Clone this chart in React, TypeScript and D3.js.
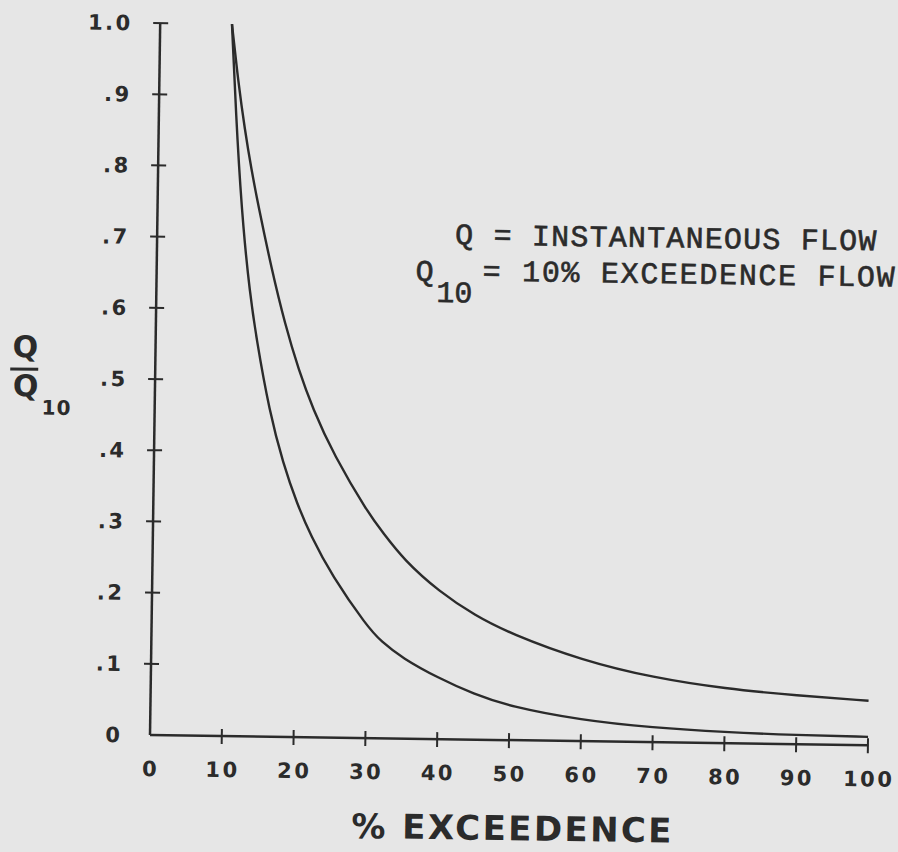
import React from "react";
import * as d3 from "d3";

const exceedence = [10, 11, 12, 13, 14, 16, 18, 20, 22, 25, 30, 32, 35, 40, 45, 50, 60, 70, 80, 90, 100];
const lowerCurve = [1.0, 0.83, 0.71, 0.625, 0.56, 0.456, 0.384, 0.328, 0.283, 0.2275, 0.157, 0.136, 0.113, 0.086, 0.064, 0.0475, 0.0295, 0.0205, 0.0155, 0.013, 0.0118];
const upperCurve = [1.0, 0.918, 0.852, 0.796, 0.747, 0.657, 0.579, 0.515, 0.462, 0.3975, 0.315, 0.2894, 0.251, 0.207, 0.1745, 0.1495, 0.1135, 0.0905, 0.0765, 0.0685, 0.0625];
const xTicks = [0, 10, 20, 30, 40, 50, 60, 70, 80, 90, 100];
const yTicks = [0, 0.1, 0.2, 0.3, 0.4, 0.5, 0.6, 0.7, 0.8, 0.9, 1.0];
const legendLine1 = "Q = INSTANTANEOUS FLOW";
const legendLine2Q = "Q";
const legendLine2Sub = "10";
const legendLine2Rest = "= 10% EXCEEDENCE FLOW";
const xTitle = "% EXCEEDENCE";

const W = 898;
const H = 852;
const ink = "#2b2b2b";
const bg = "#e6e6e6";

export default function App() {
  const x = d3.scaleLinear().domain([0, 100]).range([150, 868]);
  const y = d3.scaleLinear().domain([0, 1]).range([735, 23]);
  const line = d3
    .line<number>()
    .x((_, i) => x(exceedence[i]))
    .y((d) => y(d))
    .curve(d3.curveBasis);

  const yFmt = (v: number) => (v === 0 ? "0" : v === 1 ? "1.0" : d3.format(".1f")(v).replace(/^0/, ""));
  const sans = "DejaVu Sans, sans-serif";
  const mono = "Liberation Mono, monospace";
  const tickLS = 2.5;

  return (
    <svg width={W} height={H} style={{ position: "absolute", left: 0, top: 0, background: bg }}>
      <rect x={0} y={0} width={W} height={H} fill={bg} />
      <g transform={`rotate(0.82, ${x(0)}, ${y(0)})`}>
        {/* axes */}
        <line x1={x(0)} y1={y(0)} x2={x(0)} y2={y(1)} stroke={ink} strokeWidth={2.5} />
        <line x1={x(0)} y1={y(0)} x2={x(100)} y2={y(0)} stroke={ink} strokeWidth={2.5} />
        {yTicks.map((t) => (
          <g key={"y" + t}>
            {t > 0 && (
              <line x1={x(0) - 7} x2={x(0) + 8} y1={y(t)} y2={y(t)} stroke={ink} strokeWidth={2} />
            )}
            <text
              x={120 + tickLS}
              y={y(t)}
              dy="0.36em"
              textAnchor="end"
              fontFamily={sans}
              fontWeight="bold"
              fontSize={21}
              letterSpacing={tickLS}
              fill={ink}
            >
              {yFmt(t)}
            </text>
          </g>
        ))}
        {xTicks.map((t) => (
          <g key={"x" + t}>
            {t > 0 && (
              <line x1={x(t)} x2={x(t)} y1={y(0) - 7} y2={y(0) + 8} stroke={ink} strokeWidth={2} />
            )}
            <text
              x={x(t) + tickLS / 2}
              y={776}
              textAnchor="middle"
              fontFamily={sans}
              fontWeight="bold"
              fontSize={21}
              letterSpacing={tickLS}
              fill={ink}
            >
              {String(t)}
            </text>
          </g>
        ))}
        {/* curves */}
        <path d={line(lowerCurve) || ""} fill="none" stroke={ink} strokeWidth={2.4} strokeLinejoin="round" />
        <path d={line(upperCurve) || ""} fill="none" stroke={ink} strokeWidth={2.4} strokeLinejoin="round" />

        {/* x title */}
        <text
          x={514}
          y={835}
          textAnchor="middle"
          fontFamily={sans}
          fontWeight="bold"
          fontSize={34}
          letterSpacing={2.4}
          fill={ink}
        >
          {xTitle}
        </text>

        {/* y title */}
        <text x={7} y={359} fontFamily={sans} fontWeight="bold" fontSize={30} fill={ink}>
          Q
        </text>
        <line x1={5} x2={33} y1={371} y2={371} stroke={ink} strokeWidth={3} />
        <text x={8} y={398} fontFamily={sans} fontWeight="bold" fontSize={30} fill={ink}>
          Q
        </text>
        <text x={37} y={416} fontFamily={sans} fontWeight="bold" fontSize={20} letterSpacing={1} fill={ink}>
          10
        </text>

        {/* legend */}
        <text x={448} y={240} fontFamily={mono} fontSize={30} letterSpacing={1.2} fill={ink} stroke={ink} strokeWidth={0.6}>
          {legendLine1}
        </text>
        <text fontFamily={mono} fontSize={30} fill={ink} stroke={ink} strokeWidth={0.6}>
          <tspan x={409} y={277}>{legendLine2Q}</tspan>
          <tspan x={430} y={298}>{legendLine2Sub}</tspan>
          <tspan x={476} y={276} letterSpacing={1.7}>{legendLine2Rest}</tspan>
        </text>
      </g>
    </svg>
  );
}
